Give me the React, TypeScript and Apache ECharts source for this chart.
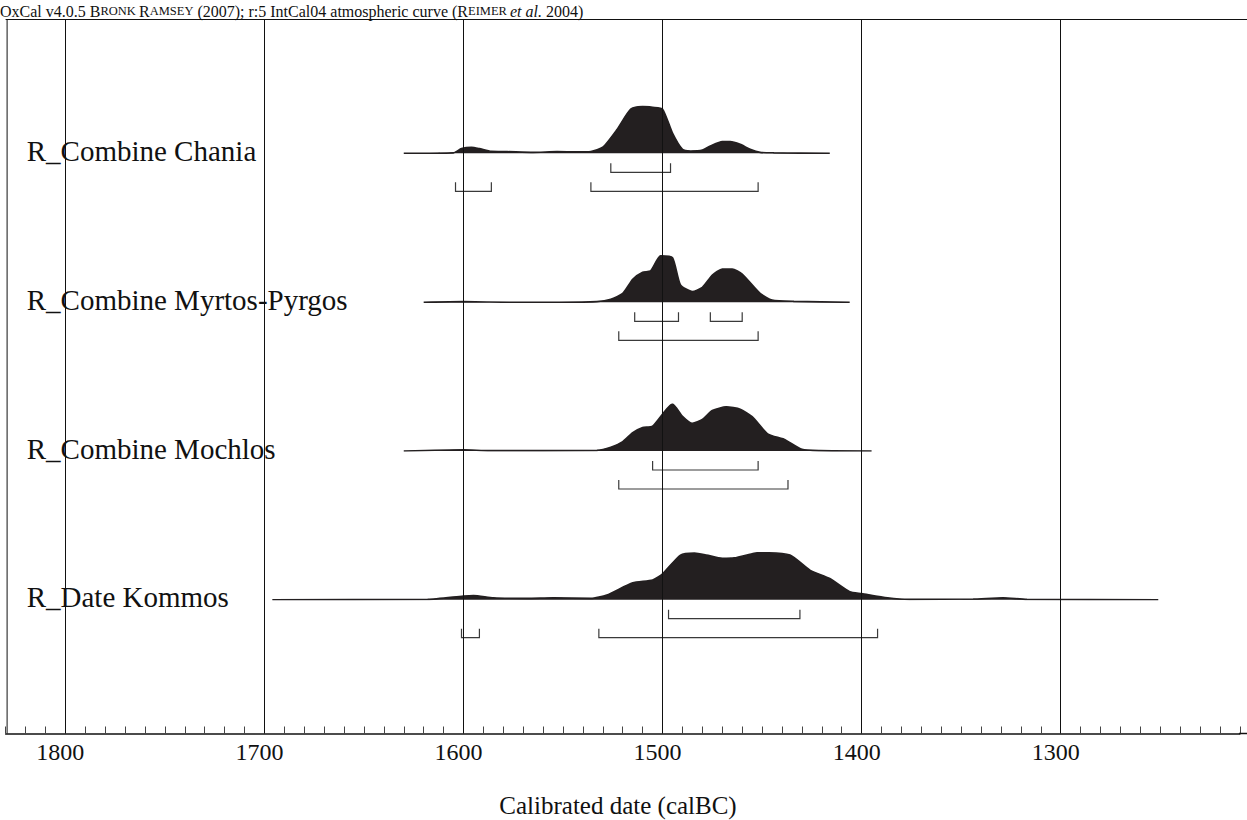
import React, { useEffect, useRef } from "react";
import * as echarts from "echarts";

// ---------- data ----------
const rowLabels = ["R_Combine Chania", "R_Combine Myrtos-Pyrgos", "R_Combine Mochlos", "R_Date Kommos"];

// [calBC year, relative probability (peak = 1)]
const chania: number[][] = [
  [1630, 0], [1605, 0.01], [1601, 0.1], [1596, 0.13], [1592, 0.1], [1586, 0.04], [1578, 0.035],
  [1565, 0.02], [1553, 0.035], [1543, 0.03], [1536, 0.04], [1530, 0.13], [1523, 0.5], [1516, 0.94],
  [1510, 1.0], [1505, 0.98], [1500, 0.94], [1495, 0.43], [1490, 0.085], [1486, 0.05], [1480, 0.07],
  [1476, 0.155], [1470, 0.25], [1466, 0.25], [1461, 0.19], [1456, 0.085], [1451, 0.02], [1444, 0.01],
  [1416, 0],
];
const myrtos: number[][] = [
  [1620, 0], [1600, 0.014], [1577, 0], [1552, 0], [1533, 0.014], [1526, 0.064], [1520, 0.19],
  [1515, 0.49], [1510, 0.64], [1506, 0.67], [1501, 0.99], [1495, 0.95], [1491, 0.37], [1485, 0.23],
  [1480, 0.32], [1475, 0.58], [1470, 0.71], [1465, 0.71], [1460, 0.6], [1451, 0.19], [1445, 0.05],
  [1434, 0.02], [1406, 0],
];
const mochlos: number[][] = [
  [1630, 0], [1600, 0.028], [1587, 0.007], [1533, 0.014], [1526, 0.078], [1520, 0.2], [1515, 0.39],
  [1510, 0.5], [1505, 0.53], [1495, 1.0], [1490, 0.74], [1485, 0.59], [1480, 0.67], [1475, 0.86],
  [1468, 0.94], [1461, 0.89], [1455, 0.73], [1447, 0.36], [1439, 0.25], [1430, 0.035], [1421, 0.007],
  [1395, 0],
];
const kommos: number[][] = [
  [1696, 0], [1618, 0.007], [1600, 0.078], [1595, 0.09], [1585, 0.04], [1568, 0.028], [1555, 0.04],
  [1536, 0.028], [1528, 0.1], [1515, 0.36], [1505, 0.42], [1500, 0.55], [1491, 0.95], [1484, 0.99],
  [1478, 0.95], [1470, 0.88], [1464, 0.89], [1454, 0.99], [1451, 1.0], [1436, 0.95], [1426, 0.63],
  [1416, 0.45], [1406, 0.17], [1400, 0.13], [1387, 0.04], [1376, 0.007], [1344, 0.014], [1329, 0.04],
  [1317, 0.007], [1251, 0],
];
const densities = [chania, myrtos, mochlos, kommos];

// highest probability ranges [from, to, level]  level 0 = 68.2 %, level 1 = 95.4 %
const chaniaRanges = [[1526, 1496, 0], [1604, 1586, 1], [1536, 1452, 1]];
const myrtosRanges = [[1514, 1492, 0], [1476, 1460, 0], [1522, 1452, 1]];
const mochlosRanges = [[1505, 1452, 0], [1522, 1437, 1]];
const kommosRanges = [[1497, 1431, 0], [1601, 1592, 1], [1532, 1392, 1]];
const ranges = [chaniaRanges, myrtosRanges, mochlosRanges, kommosRanges];

const majorYears = [1800, 1700, 1600, 1500, 1400, 1300];
const axisMin = 1210;
const axisMax = 1830;
const minorStep = 10;
const axisTitle = "Calibrated date (calBC)";

// ---------- layout ----------
const W = 1247;
const H = 820;
const pxPerYear = 1.9908;
const gridLeft = 5.6;
const gridWidth = (axisMax - axisMin) * pxPerYear;
const plotTop = 19.5;
const plotBottom = 733.5;
const rowBaselines = [153.3, 302.3, 451, 599.7];
const peakHeight = 47;
const ink = "#231f20";
const serif = "Liberation Serif, Times New Roman, serif";

export default function App() {
  const ref = useRef<HTMLDivElement>(null);

  useEffect(() => {
    document.body.style.margin = "0";
    const chart = echarts.init(ref.current!, undefined, { renderer: "svg" });

    const grids: any[] = [
      { left: gridLeft, width: gridWidth, top: plotTop, height: plotBottom - plotTop, show: false },
    ];
    const xAxes: any[] = [
      {
        type: "value", gridIndex: 0, inverse: true, min: axisMin, max: axisMax, interval: minorStep,
        axisLine: { show: true, lineStyle: { color: "#111", width: 1.5 } },
        axisTick: { show: true, inside: true, length: 7, lineStyle: { color: "#444", width: 1 } },
        splitLine: { show: false },
        axisLabel: {
          show: true, color: "#111", fontFamily: serif, fontSize: 24, margin: 6,
          padding: [0, 10, 0, 0],
          formatter: (v: number) => (v % 100 === 0 ? String(v) : ""),
        },
      },
    ];
    const yAxes: any[] = [{ type: "value", gridIndex: 0, show: false, min: 0, max: 1 }];
    const series: any[] = [
      {
        type: "line", xAxisIndex: 0, yAxisIndex: 0, data: [[axisMax, 0], [axisMin, 0]], symbol: "none",
        lineStyle: { opacity: 0 }, silent: true, z: 1,
        markLine: {
          symbol: "none", silent: true, label: { show: false },
          lineStyle: { color: "#111", width: 1, type: "solid" },
          data: majorYears.map((v) => ({ xAxis: v })),
        },
      },
    ];

    densities.forEach((d, i) => {
      const g = i + 1;
      grids.push({ left: gridLeft, width: gridWidth, top: rowBaselines[i] - peakHeight, height: peakHeight });
      xAxes.push({ type: "value", gridIndex: g, inverse: true, min: axisMin, max: axisMax, show: false });
      yAxes.push({ type: "value", gridIndex: g, min: 0, max: 1, show: false });
      series.push({
        type: "line", xAxisIndex: g, yAxisIndex: g, data: d, symbol: "none", smooth: 0.2,
        lineStyle: { color: ink, width: 1.6 }, areaStyle: { color: ink, opacity: 1 }, z: 3,
      });
      series.push({
        type: "custom", xAxisIndex: g, yAxisIndex: g, data: ranges[i], z: 4,
        renderItem: (_p: any, api: any) => {
          const s = api.value(0), e = api.value(1), lvl = api.value(2);
          const p1 = api.coord([s, 0]);
          const p2 = api.coord([e, 0]);
          const y = p1[1] + (lvl === 0 ? 19 : 38);
          return {
            type: "polyline",
            shape: { points: [[p1[0], y - 9], [p1[0], y], [p2[0], y], [p2[0], y - 9]] },
            style: { stroke: "#3a3a3a", lineWidth: 1.2, fill: null },
          };
        },
      });
    });

    const gridRight = gridLeft + gridWidth;
    const graphic: any[] = [
      // plot frame: left and top edges, axis line continued to the page edge
      { type: "line", shape: { x1: gridLeft + 1.5, y1: plotTop, x2: gridLeft + 1.5, y2: plotBottom }, style: { stroke: "#111", lineWidth: 1 }, z: 5 },
      { type: "line", shape: { x1: gridLeft, y1: plotTop, x2: W, y2: plotTop }, style: { stroke: "#111", lineWidth: 1 }, z: 5 },
      { type: "line", shape: { x1: gridRight - 1, y1: plotBottom, x2: W, y2: plotBottom }, style: { stroke: "#111", lineWidth: 1.5 }, z: 5 },
    ];
    rowLabels.forEach((t, i) => {
      graphic.push({
        type: "text", left: 26.7, top: rowBaselines[i] - 17, z: 10,
        style: { text: t, fontFamily: serif, fontSize: 29, fill: "#111" },
      });
    });
    graphic.push({
      type: "text", x: 618, y: 805.5, z: 10,
      style: { text: axisTitle, fontFamily: serif, fontSize: 25, fill: "#111", align: "center", verticalAlign: "middle" },
    });

    const r = (extra: any = {}) => ({ fontFamily: serif, fontSize: 16, fontWeight: "normal", color: "#111", ...extra });
    chart.setOption({
      animation: false,
      backgroundColor: "#fff",
      title: {
        left: 0, top: 3, padding: 0,
        text: "{a|OxCal v4.0.5 B}{s|RONK }{a|R}{s|AMSEY}{a| (2007); r:5 IntCal04 atmospheric curve (R}{s|EIMER }{i|et al.}{a| 2004)}",
        textStyle: {
          fontWeight: "normal",
          rich: { a: r(), s: r({ fontSize: 12.5 }), i: r({ fontStyle: "italic" }) },
        },
      },
      grid: grids,
      xAxis: xAxes,
      yAxis: yAxes,
      series,
      graphic,
    });
    return () => chart.dispose();
  }, []);

  return <div ref={ref} style={{ position: "absolute", left: 0, top: 0, width: W, height: H }} />;
}
